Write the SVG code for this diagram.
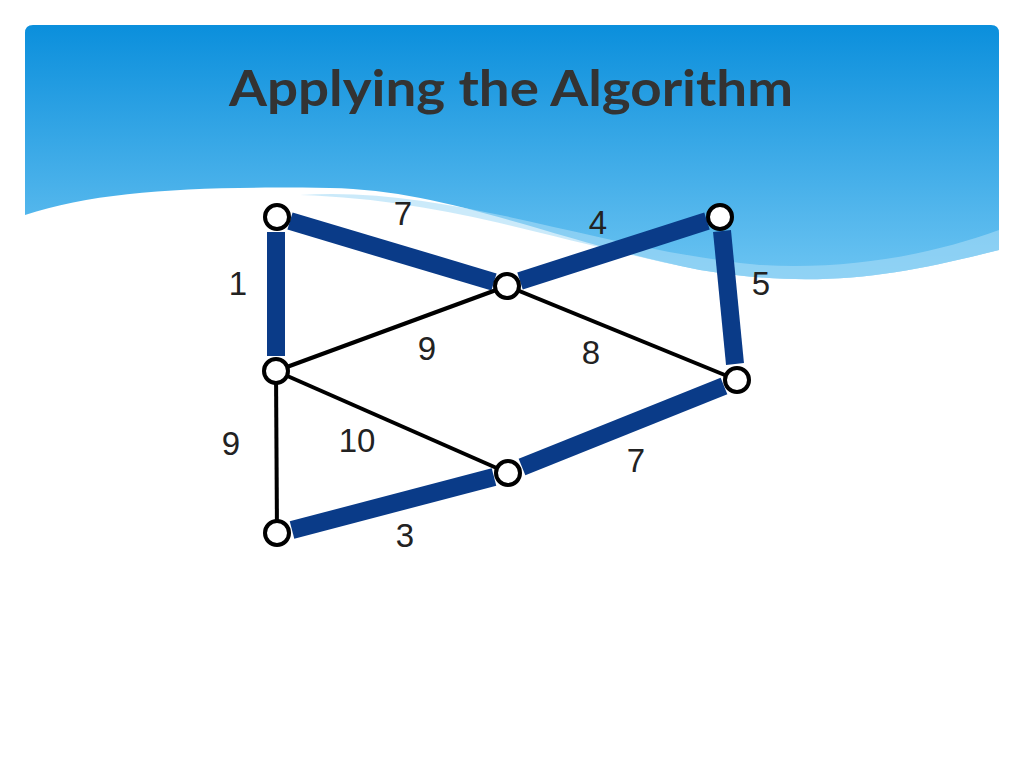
<svg xmlns="http://www.w3.org/2000/svg" width="1024" height="768" viewBox="0 0 1024 768">
<defs>
<linearGradient id="hg" x1="0" y1="0" x2="0" y2="1">
<stop offset="0" stop-color="#0b8fdc"/>
<stop offset="1" stop-color="#6cc4f2"/>
</linearGradient>
<style>
.n{fill:#fff;stroke:#000;stroke-width:4}
.t{stroke:#0a3b88;stroke-width:18}
.k{stroke:#000;stroke-width:4}
.l{font-family:"Liberation Sans",Arial,sans-serif;font-size:33px;fill:#222;text-anchor:middle}
</style>
</defs>
<rect width="1024" height="768" fill="#fff"/>
<path d="M33,25 H991 Q999,25 999,33 V250 C900,275 820,290 700,270 C550,240 450,190 330,188 C200,186 100,190 25,215 V33 Q25,25 33,25 Z" fill="url(#hg)"/>
<path d="M300,195 C450,185 600,250 760,265 C850,270 930,255 999,230 V250 C900,275 820,290 700,270 C550,240 450,200 300,195 Z" fill="#a8dcf7" opacity="0.6"/>
<text x="511" y="106" font-family="Lato,'Liberation Sans',sans-serif" font-size="50" font-weight="bold" fill="#333" text-anchor="middle" textLength="564" lengthAdjust="spacingAndGlyphs">Applying the Algorithm</text>
<g id="connectors">
<line class="t" x1="290" y1="221" x2="494" y2="282"/>
<line class="t" x1="520" y1="281" x2="707" y2="221"/>
<line class="t" x1="722" y1="231" x2="735" y2="364"/>
<line class="t" x1="276" y1="232" x2="276" y2="356"/>
<line class="t" x1="522" y1="467" x2="724" y2="386"/>
<line class="t" x1="292" y1="530" x2="494" y2="477"/>
<line class="k" x1="276" y1="371" x2="507" y2="286"/>
<line class="k" x1="507" y1="286" x2="737" y2="380"/>
<line class="k" x1="276" y1="371" x2="508" y2="473"/>
<line class="k" x1="276" y1="371" x2="277" y2="533"/>
</g>
<g id="labels">
<text class="l" x="403" y="225">7</text>
<text class="l" x="598" y="234">4</text>
<text class="l" x="238" y="295">1</text>
<text class="l" x="761" y="295">5</text>
<text class="l" x="427" y="360">9</text>
<text class="l" x="591" y="364">8</text>
<text class="l" x="231" y="455">9</text>
<text class="l" x="357" y="452">10</text>
<text class="l" x="636" y="472">7</text>
<text class="l" x="405" y="547">3</text>
</g>
<g id="nA"><circle class="n" cx="277" cy="217" r="12"/></g>
<g id="nB"><circle class="n" cx="507" cy="286" r="12"/></g>
<g id="nC"><circle class="n" cx="720" cy="217" r="12"/></g>
<g id="nD"><circle class="n" cx="276" cy="371" r="12"/></g>
<g id="nE"><circle class="n" cx="737" cy="380" r="12"/></g>
<g id="nF"><circle class="n" cx="508" cy="473" r="12"/></g>
<g id="nG"><circle class="n" cx="277" cy="533" r="12"/></g>
</svg>
